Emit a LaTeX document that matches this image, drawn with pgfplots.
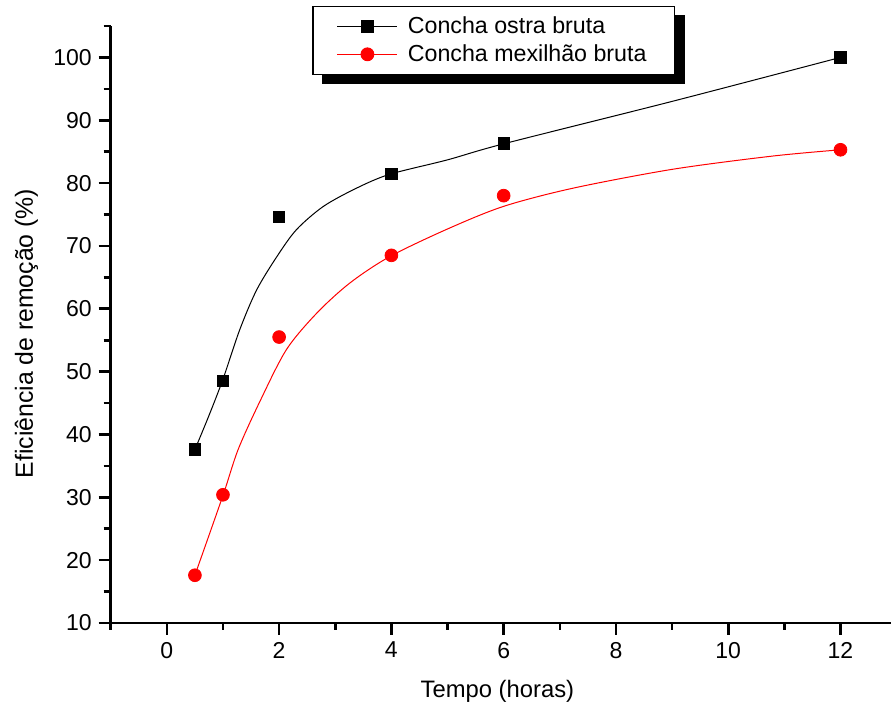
\documentclass[border=0pt]{standalone}
\usepackage{fontspec}
\setmainfont{Liberation Sans}
\usepackage{pgfplots}
\pgfplotsset{compat=1.18}
\usetikzlibrary{calc,backgrounds}

\pgfplotstableread{
x y
0.5 37.6
1 48.5
2 74.6
4 81.5
6 86.3
12 100.0
}\ostra

\pgfplotstableread{
x y
0.5 17.6
1 30.4
2 55.5
4 68.5
6 78.0
12 85.3
}\mexilhao

\pgfplotstableread{
x y
0.5 37.6
0.75 43.0
1.0 48.8
1.30 56.7
1.60 63.0
1.96 68.3
2.31 72.6
2.79 76.3
3.38 79.2
3.97 81.4
5.00 83.7
6.00 86.25
9.00 93.0
12 100.0
}\ostrafit

\pgfplotstableread{
x y
0.5 17.6
1.0 30.3
1.27 37.6
1.66 45.3
2.13 53.5
2.67 59.3
3.26 64.1
3.97 68.3
5.00 72.7
6.00 76.3
7.24 79.2
9.01 82.2
10.79 84.3
12 85.3
}\mexilhaofit

\begin{document}
\begin{tikzpicture}
\begin{axis}[
  name=ax,
  scale only axis,
  width=390.15pt, height=298.5pt,
  xmin=-1, xmax=12.9,
  ymin=10, ymax=105,
  axis x line*=bottom,
  axis y line*=left,
  axis line style={line width=1.3pt},
  tick align=outside,
  tick style={line width=1.3pt, black},
  major tick length=6pt,
  minor tick length=3.5pt,
  xtick={0,2,4,6,8,10,12},
  minor xtick={-1,1,3,5,7,9,11},
  ytick={10,20,...,100},
  minor ytick={15,25,...,105},
  /pgf/number format/assume math mode=true,
  tick label style={font=\fontsize{11.5}{13}\selectfont},
  xlabel={Tempo (horas)},
  ylabel={Eficiência de remoção (\%)},
  xlabel style={font=\fontsize{11.9}{13}\selectfont, at={(axis description cs:0.4956,-0.1251)}, anchor=base},
  ylabel style={font=\fontsize{12.4}{13}\selectfont, at={(axis description cs:-0.0996,0.485)}, anchor=base},
  legend style={
    name=leg,
    at={(axis description cs:0.2584,1.0335)}, anchor=north west,
    draw=black, line width=0.6pt, fill=white,
    font=\fontsize{11.6}{13}\selectfont,
    cells={anchor=west},
    inner xsep=12pt, inner ysep=3pt,
    row sep=0pt,
    /tikz/every odd column/.append style={column sep=3pt},
  },
  legend image code/.code={
    \draw[mark repeat=2,mark phase=2,#1] plot coordinates {(0pt,0pt) (15pt,0pt) (30pt,0pt)};
  },
]
\addplot[black, line width=0.5pt, smooth, forget plot] table[x=x,y=y] {\ostrafit};
\addplot[red, line width=0.5pt, smooth, forget plot] table[x=x,y=y] {\mexilhaofit};
\addplot[only marks, mark=square*, mark size=2.85pt, black, forget plot] table[x=x,y=y] {\ostra};
\addplot[only marks, mark=*, mark size=3.2pt, red, forget plot] table[x=x,y=y] {\mexilhao};
\addlegendimage{black, line width=0.5pt, mark=square*, mark size=2.85pt, mark options={solid}}
\addlegendentry{Concha ostra bruta}
\addlegendimage{red, line width=0.5pt, mark=*, mark size=3.2pt, mark options={solid}}
\addlegendentry{Concha mexilhão bruta}
\end{axis}
\begin{scope}[on background layer]
\fill[black] ($(leg.south west)+(4.75pt,-4.75pt)$) rectangle ($(leg.north east)+(4.75pt,-4.75pt)$);
\end{scope}
\pgfresetboundingbox
\path[use as bounding box] ($(ax.south west)+(-55.35pt,-43pt)$) rectangle ($(ax.north east)+(0pt,13pt)$);
\end{tikzpicture}
\end{document}
